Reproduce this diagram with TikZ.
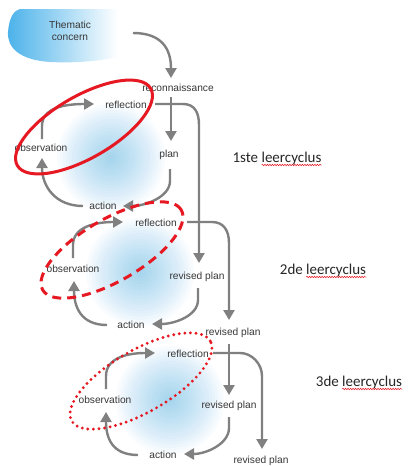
\documentclass[tikz,border=0pt]{standalone}
\usepackage{fontspec}
\setmainfont{Liberation Sans}
\newfontfamily\calib{Carlito}
\usetikzlibrary{arrows.meta,calc,decorations.pathmorphing}
\definecolor{arrgray}{RGB}{128,128,128}
\definecolor{redc}{RGB}{230,25,35}
\definecolor{glowc}{RGB}{70,175,235}
\definecolor{blobc}{RGB}{75,178,234}
\definecolor{txt}{RGB}{55,55,55}
\begin{document}
\begin{tikzpicture}[x=1pt,y=-1pt,
  lbl/.style={font=\fontsize{10.2}{11.5}\selectfont, text=txt, inner sep=1pt},
  arr/.style={draw=arrgray, line width=2.4pt, -{Triangle[length=10pt,width=11pt]}},
  big/.style={font=\calib\fontsize{15}{18}\selectfont, inner sep=0pt, text=black!85},
  squig/.style={draw=redc, line width=0.5pt, decorate, decoration={snake, amplitude=0.8pt, segment length=2.5pt}},
  ring/.style={draw=redc, line width=3pt}
]
\fill[white] (0,0) rectangle (409,466);
\useasboundingbox (0,0) rectangle (409,466);
% glows
\foreach \cx/\cy in {111/158,140/272,170/400}{
  \foreach \r in {3,6,...,54}{
    \fill[glowc, fill opacity=0.03] (\cx,\cy) circle [radius=\r pt];
  }
}
% thematic concern blob
\shade[left color=blobc, right color=white, middle color=blobc!50!white]
  (20,9) -- (118,9) -- (118,57) .. controls (95,62) and (70,63) .. (50,62)
  .. controls (20,60) and (7,48) .. (8,32) .. controls (9,18) and (14,10) .. (20,9) -- cycle;
% nodes
\node[lbl, align=center] (tc) at (70,31) {Thematic\\concern};
\node[lbl] (rec) at (178,88) {reconnaissance};
\node[lbl] (refl1) at (126,105) {reflection};
\node[lbl] (obs1) at (41,148) {observation};
\node[lbl] (plan1) at (169,155) {plan};
\node[lbl] (act1) at (103,206) {action};
\node[lbl] (refl2) at (156,223) {reflection};
\node[lbl] (obs2) at (73,269) {observation};
\node[lbl] (rp2) at (197,277) {revised plan};
\node[lbl] (act2) at (131,325) {action};
\node[lbl] (rp2b) at (233,333) {revised plan};
\node[lbl] (refl3) at (188,354) {reflection};
\node[lbl] (obs3) at (105,400) {observation};
\node[lbl] (rp3) at (229,406) {revised plan};
\node[lbl] (act3) at (163,455) {action};
\node[lbl] (rp3b) at (261,461) {revised plan};
\node[big] (c1) at (277,158) {1ste leercyclus};
\node[big] (c2) at (323,270) {2de leercyclus};
\node[big] (c3) at (359,382) {3de leercyclus};
\draw[squig] ($(c1.base east)+(-60,3)$) -- ($(c1.base east)+(0,3)$);
\draw[squig] ($(c2.base east)+(-60,3)$) -- ($(c2.base east)+(0,3)$);
\draw[squig] ($(c3.base east)+(-60,3)$) -- ($(c3.base east)+(0,3)$);
% cycle 1 arrows
\draw[arr] ($(tc)+(63,2)$) .. controls +(28,0) and +(0,-30) .. ($(rec)+(-7,-10)$);
\draw[arr] ($(rec)+(-7,9)$) -- ($(plan1)+(2,-14)$);
\draw[arr] ($(plan1)+(1,14)$) -- ($(plan1)+(1,26)$) .. controls +(0,16) and +(22,0) .. ($(act1)+(20,0)$);
\draw[arr] ($(act1)+(-20,0)$) .. controls +(-28,0) and +(0,28) .. ($(obs1)+(1,10)$);
\draw[arr] ($(obs1)+(1,-9)$) -- ($(obs1)+(1,-22)$) .. controls +(0,-18) and +(-30,0) .. ($(refl1)+(-32,-1)$);
\draw[arr] ($(refl1)+(29,-1)$) -- ($(refl1)+(57,-1)$) .. controls +(12,0) and +(0,-12) .. ($(rp2)+(2,-152)$) -- ($(rp2)+(2,-14)$);
% cycle 2 arrows
\draw[arr] ($(obs2)+(0,-11)$) -- ($(obs2)+(0,-24)$) .. controls +(0,-18) and +(-28,0) .. ($(refl2)+(-33,-1)$);
\draw[arr] ($(act2)+(-24,0)$) .. controls +(-26,0) and +(0,26) .. ($(obs2)+(1,12)$);
\draw[arr] ($(rp2)+(1,11)$) -- ($(rp2)+(1,23)$) .. controls +(0,16) and +(22,0) .. ($(act2)+(21,-1)$);
\draw[arr] ($(refl2)+(31,-1)$) -- ($(refl2)+(56,-1)$) .. controls +(12,0) and +(0,-12) .. ($(rp2b)+(-4,-90)$) -- ($(rp2b)+(-4,-13)$);
% cycle 3 arrows
\draw[arr] ($(rp2b)+(-4,11)$) -- ($(rp3)+(0,-11)$);
\draw[arr] ($(obs3)+(1,-11)$) -- ($(obs3)+(1,-24)$) .. controls +(0,-18) and +(-28,0) .. ($(refl3)+(-33,-1)$);
\draw[arr] ($(act3)+(-25,0)$) .. controls +(-26,0) and +(0,26) .. ($(obs3)+(1,12)$);
\draw[arr] ($(rp3)+(0,11)$) -- ($(rp3)+(0,22)$) .. controls +(0,16) and +(22,0) .. ($(act3)+(21,-1)$);
\draw[arr] ($(refl3)+(25,-1)$) -- ($(refl3)+(52,-1)$) .. controls +(12,0) and +(0,-12) .. ($(rp3b)+(1,-85)$) -- ($(rp3b)+(1,-12)$);
% red ellipses
\draw[ring, rotate around={30:(84,127)}] (84,127) ellipse [x radius=77pt, y radius=31pt];
\draw[ring, dash pattern=on 9pt off 6pt, rotate around={30:(112,250)}] (112,250) ellipse [x radius=80pt, y radius=31pt];
\draw[ring, line width=3.2pt, line cap=round, dash pattern=on 0pt off 5.6pt, rotate around={30:(141,381)}] (141,381) ellipse [x radius=80pt, y radius=31pt];
\end{tikzpicture}
\end{document}
